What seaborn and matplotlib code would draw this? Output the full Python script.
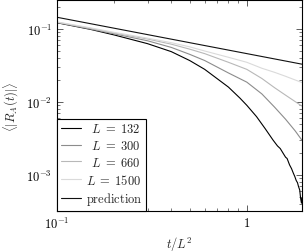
"""
Decay of <|R_A(t)|> versus rescaled time t/L^2, log-log
"""

import pandas as pd
import matplotlib.pyplot as plt
import seaborn as sns

# values
t_grid = [0.1, 0.15, 0.2, 0.3, 0.4, 0.5, 0.6, 0.8, 1.0, 1.2, 1.4, 1.6, 1.8, 1.95]

r_132_t = [0.1, 0.15, 0.2, 0.3, 0.4, 0.5, 0.6, 0.8, 0.92, 1.0, 1.125, 1.25, 1.375,
           1.45, 1.5, 1.55, 1.6, 1.63, 1.68, 1.72, 1.76, 1.79, 1.82, 1.85, 1.87,
           1.9, 1.92, 1.94, 1.95]
r_132 = [0.122, 0.099, 0.083, 0.063, 0.049, 0.037, 0.028, 0.0160, 0.0113, 0.0090,
         0.0063, 0.0043, 0.0030, 0.0025, 0.0023, 0.0020, 0.00175, 0.00168, 0.00137,
         0.00122, 0.00105, 0.00095, 0.00084, 0.00078, 0.00070, 0.00062, 0.00048,
         0.00041, 0.00048]
r_300 = [0.123, 0.100, 0.086, 0.069, 0.056, 0.045, 0.037, 0.025, 0.0187, 0.0129,
         0.0085, 0.0058, 0.0040, 0.0030]
r_660 = [0.124, 0.102, 0.088, 0.073, 0.062, 0.053, 0.046, 0.035, 0.028, 0.021,
         0.0157, 0.0124, 0.0101, 0.0088]
r_1500 = [0.125, 0.104, 0.090, 0.075, 0.065, 0.057, 0.050, 0.041, 0.035, 0.029,
          0.0255, 0.0225, 0.0200, 0.0185]

pred_t = [0.1, 1.95]
pred = [0.145, 0.033]

sizes = ['132', '300', '660', '1500']
labels = [r'$\enspace L \;=\; 132$', r'$\enspace L \;=\; 300$',
          r'$\enspace L \;=\; 660$', r'$L \;=\; 1500$', r'$\mathrm{prediction}$']
colors = ['#000000', '#8c8c8c', '#b8b8b8', '#dadada']

sns.set_style("ticks")
plt.rcParams['mathtext.fontset'] = 'cm'
plt.rcParams['font.family'] = ['DejaVu Serif']
plt.rcParams['font.size'] = 8.5


def build_frame():
    rows = []
    for x, y in zip(r_132_t, r_132):
        rows.append(('132', x, y))
    for L, vals in zip(sizes[1:], [r_300, r_660, r_1500]):
        for x, y in zip(t_grid, vals):
            rows.append((L, x, y))
    return pd.DataFrame(rows, columns=['L', 't', 'R'])


def main():
    df = build_frame()
    fig, ax = plt.subplots(figsize=(3.04, 2.53), dpi=100)
    fig.subplots_adjust(left=0.1875, right=0.993, top=0.996, bottom=0.162)

    for L, c, lab in zip(sizes, colors, labels):
        sub = df[df['L'] == L]
        sns.lineplot(x=sub['t'], y=sub['R'], ax=ax, color=c, linewidth=0.8,
                     label=lab, errorbar=None, sort=True)
    sns.lineplot(x=pred_t, y=pred, ax=ax, color='#111111', linewidth=0.8,
                 label=labels[-1], errorbar=None)

    ax.set_xscale('log')
    ax.set_yscale('log')
    ax.set_xlim(0.1, 1.95)
    ax.set_ylim(3.2e-4, 0.25)

    ax.set_xticks([0.1, 1])
    ax.set_xticklabels([r'$10^{-1}$', r'$1$'])
    ax.set_yticks([1e-3, 1e-2, 1e-1])
    ax.set_yticklabels([r'$10^{-3}$', r'$10^{-2}$', r'$10^{-1}$'])
    ax.tick_params(which='both', direction='in', top=True, right=True,
                   colors='#444444', labelcolor='black', labelsize=9)
    ax.tick_params(which='major', length=4, width=0.6)
    ax.tick_params(which='minor', length=2.5, width=0.5)
    for s in ax.spines.values():
        s.set_color('black')
        s.set_linewidth(0.8)

    ax.set_xlabel(r'$t/L^2$', fontsize=9, labelpad=3)
    ax.set_ylabel(r'$\langle|R_A(t)|\rangle$', fontsize=9, labelpad=4)

    leg = ax.legend(loc='lower left', borderaxespad=0, fancybox=False,
                    edgecolor='black', framealpha=1, fontsize=9,
                    handlelength=1.6, handletextpad=0.4, labelspacing=0.3,
                    borderpad=0.3)
    leg.get_frame().set_linewidth(0.8)

    plt.savefig('out.png', dpi=100)


if __name__ == "__main__":
    main()
